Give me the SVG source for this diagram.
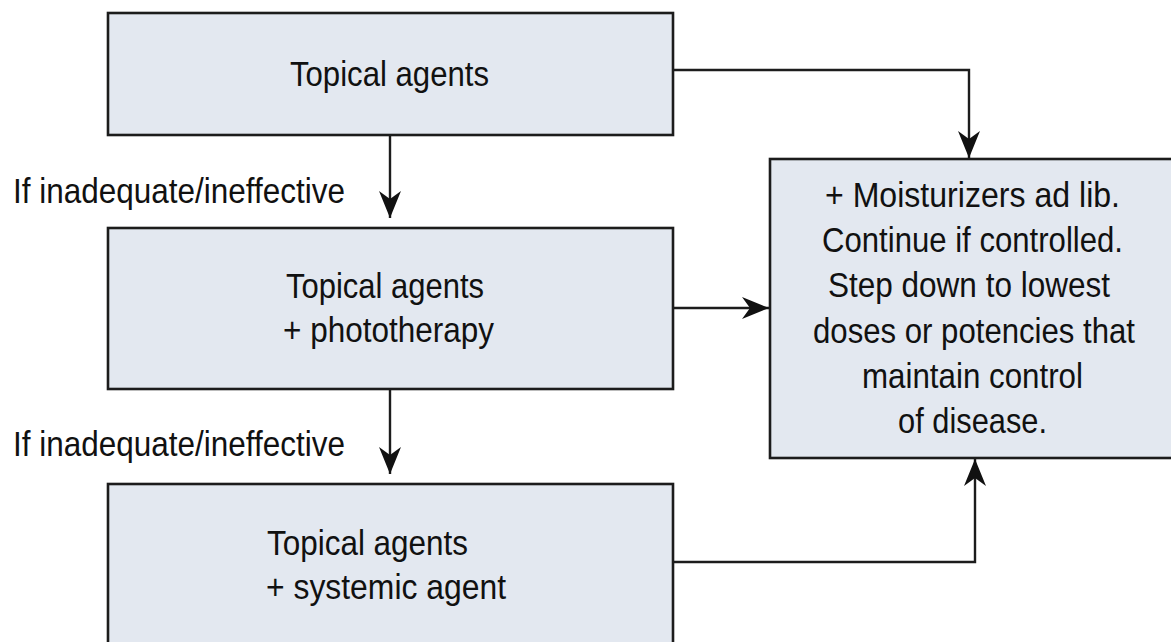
<svg xmlns="http://www.w3.org/2000/svg" width="1171" height="642" viewBox="0 0 1171 642">
  <style>
    .box { fill: #e3e8f0; stroke: #1c1c1c; stroke-width: 2.6; }
    .txt { font-family: "Liberation Sans Narrow", "Liberation Sans", Arial, sans-serif; font-size: 35px; fill: #111; }
    .link { fill: none; stroke: #1c1c1c; stroke-width: 2.4; }
  </style>
  <defs>
    <marker id="arrow" viewBox="0 0 27 22" refX="27" refY="11" markerWidth="27" markerHeight="22" markerUnits="userSpaceOnUse" orient="auto">
      <path d="M0,0 L27,11 L0,22 L8,11 Z" fill="#111"/>
    </marker>
  </defs>
  <rect x="0" y="0" width="1171" height="642" fill="#ffffff"/>

  <!-- connectors -->
  <g id="connectors">
    <path class="link" d="M673,70 H969 V158" marker-end="url(#arrow)"/>
    <path class="link" d="M390,135 V218" marker-end="url(#arrow)"/>
    <path class="link" d="M673,308 H769" marker-end="url(#arrow)"/>
    <path class="link" d="M390,390 V474" marker-end="url(#arrow)"/>
    <path class="link" d="M673,562 H975 V459" marker-end="url(#arrow)"/>
  </g>

  <!-- step labels -->
  <g id="label-step1">
    <text class="txt" x="13" y="203" textLength="332" lengthAdjust="spacingAndGlyphs">If inadequate/ineffective</text>
  </g>
  <g id="label-step2">
    <text class="txt" x="13" y="456" textLength="332" lengthAdjust="spacingAndGlyphs">If inadequate/ineffective</text>
  </g>

  <!-- step 1 -->
  <g id="node-topical">
    <rect class="box" x="108" y="13" width="565" height="122"/>
    <text class="txt" x="290" y="86" textLength="199" lengthAdjust="spacingAndGlyphs">Topical agents</text>
  </g>

  <!-- step 2 -->
  <g id="node-phototherapy">
    <rect class="box" x="108" y="228" width="565" height="161"/>
    <text class="txt" x="286" y="298" textLength="198" lengthAdjust="spacingAndGlyphs">Topical agents</text>
    <text class="txt" x="283" y="342" textLength="211" lengthAdjust="spacingAndGlyphs">+ phototherapy</text>
  </g>

  <!-- step 3 -->
  <g id="node-systemic">
    <rect class="box" x="108" y="484" width="565" height="175"/>
    <text class="txt" x="267" y="555" textLength="201" lengthAdjust="spacingAndGlyphs">Topical agents</text>
    <text class="txt" x="266" y="599" textLength="240" lengthAdjust="spacingAndGlyphs">+ systemic agent</text>
  </g>

  <!-- maintenance -->
  <g id="node-maintenance">
    <rect class="box" x="770" y="159" width="420" height="299"/>
    <text class="txt" x="825" y="207" textLength="295" lengthAdjust="spacingAndGlyphs">+ Moisturizers ad lib.</text>
    <text class="txt" x="822" y="252" textLength="301" lengthAdjust="spacingAndGlyphs">Continue if controlled.</text>
    <text class="txt" x="828" y="297" textLength="282" lengthAdjust="spacingAndGlyphs">Step down to lowest</text>
    <text class="txt" x="813" y="343" textLength="322" lengthAdjust="spacingAndGlyphs">doses or potencies that</text>
    <text class="txt" x="862" y="388" textLength="221" lengthAdjust="spacingAndGlyphs">maintain control</text>
    <text class="txt" x="898" y="433" textLength="149" lengthAdjust="spacingAndGlyphs">of disease.</text>
  </g>
</svg>
